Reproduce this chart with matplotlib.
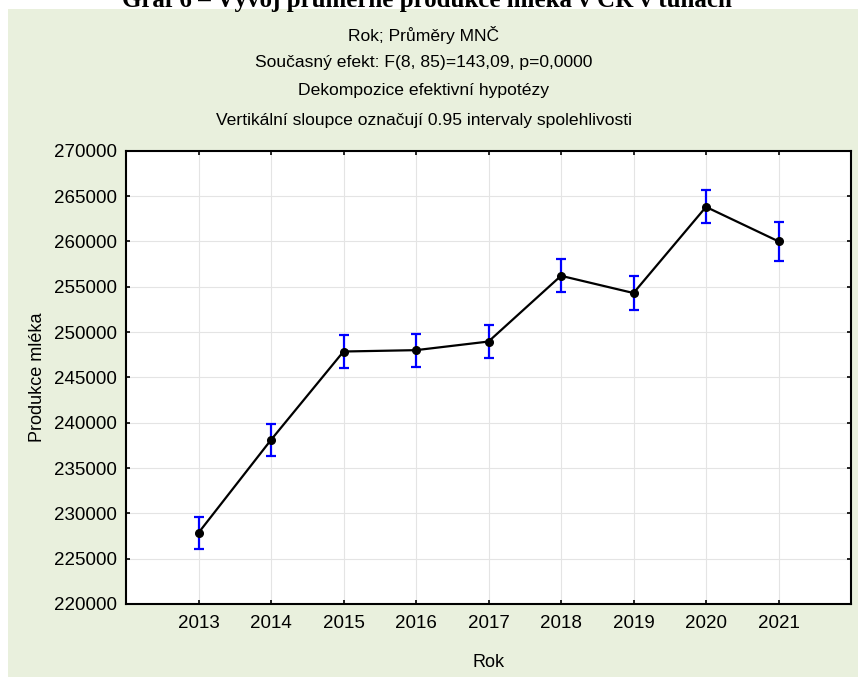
import numpy as np
from matplotlib import pyplot as plt
from matplotlib.patches import Rectangle

# Prumerna produkce mleka (MNC) podle roku, s 0.95 intervaly spolehlivosti
roky = [2013, 2014, 2015, 2016, 2017, 2018, 2019, 2020, 2021]
prumery = [227850, 238100, 247850, 248000, 248950, 256200, 254300, 263800, 260000]
ci_pul = [1800, 1800, 1830, 1830, 1820, 1820, 1840, 1820, 2150]
y_ticks = [220000, 225000, 230000, 235000, 240000, 245000, 250000, 255000, 260000, 265000, 270000]

plt.rcParams['font.family'] = ['Liberation Sans', 'DejaVu Sans']

W, H = 858, 677
fig = plt.figure(figsize=(W / 100, H / 100), dpi=100)
fig.patch.set_facecolor('white')

# zeleny panel (export ze STATISTICA)
fig.patches.append(Rectangle((8 / W, 0), 1 - 8 / W, 1 - 9 / H, transform=fig.transFigure,
                             facecolor='#e9f0dd', edgecolor='none', zorder=-1))

# orezany nadpis nahore
fig.text(0.5 - 2 / W, 1 - 7 / H, 'Graf 6 – Vývoj průměrné produkce mléka v ČR v tunách',
         ha='center', va='baseline', family=['Liberation Serif', 'DejaVu Serif'],
         weight='bold', fontsize=18)

titles = ['Rok; Průměry MNČ',
          'Současný efekt: F(8, 85)=143,09, p=0,0000',
          'Dekompozice efektivní hypotézy',
          'Vertikální sloupce označují 0.95 intervaly spolehlivosti']
for t, yp in zip(titles, [35, 62, 91, 121]):
    fig.text(0.5 - 5 / W, 1 - yp / H, t, ha='center', va='center', fontsize=12.6)

ax = fig.add_axes([126 / W, 1 - 604 / H, (851 - 126) / W, (604 - 150.7) / H])
ax.set_facecolor('white')

ax.plot(roky, prumery, color='black', lw=1.6, marker='o', markersize=5.5, zorder=3)
ax.errorbar(roky, prumery, yerr=ci_pul, fmt='none', ecolor='#0000ff',
            elinewidth=1.6, capsize=3.5, capthick=1.6, zorder=2)

ax.set_xlim(2012, 2022)
ax.set_ylim(220000, 270000)
ax.set_xticks(roky)
ax.set_yticks(y_ticks)
ax.set_yticklabels([str(v) for v in y_ticks])
ax.grid(True, color='#e4e4e4', lw=0.8, zorder=0)
ax.set_axisbelow(True)

ax.tick_params(direction='in', length=3, width=1.2, top=True, right=True,
               labelsize=13.5, colors='black')
ax.tick_params(axis='y', pad=6.5)
ax.tick_params(axis='x', pad=8)
for s in ax.spines.values():
    s.set_linewidth(1.5)

ax.set_xlabel('Rok', fontsize=13, labelpad=16)
ax.set_ylabel('Produkce mléka', fontsize=13, labelpad=6)

plt.savefig('out.png', dpi=100)
